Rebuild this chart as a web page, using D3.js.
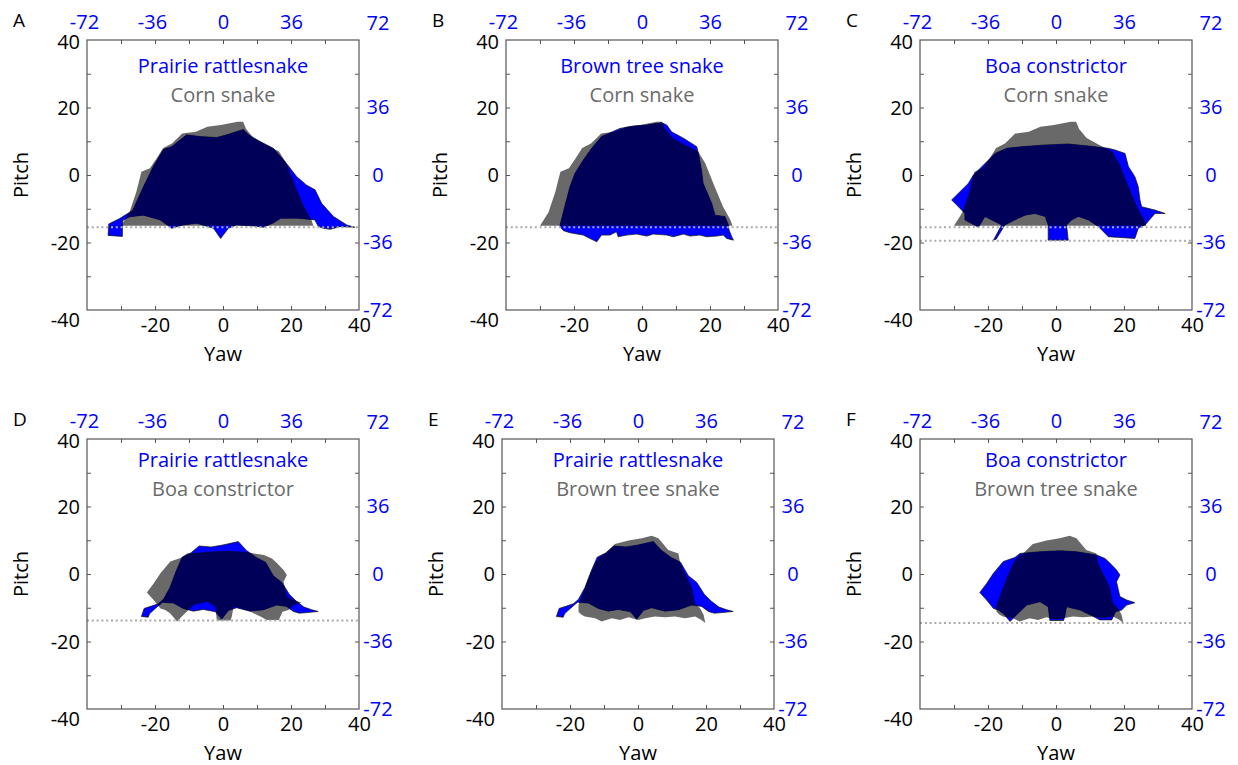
<!DOCTYPE html>
<html>
<head>
<meta charset="utf-8">
<script src="https://cdn.jsdelivr.net/npm/d3@7"></script>
<style>
  body { margin: 0; background: #fff; }
  text { font-family: "Open Sans", sans-serif; }
</style>
</head>
<body>
<script>
// axis ticks
var yawLabels = [-20, 0, 20, 40];
var pitchLabels = [-40, -20, 0, 20, 40];
var minorTicks = [-30, -20, -10, 0, 10, 20, 30];
var topLabels = [-72, -36, 0, 36];
var rightLabels = [-72, -36, 0, 36, 72];

// visual field outlines, [yaw, pitch]
var corn1 = [[-30,-15],[-27.5,-11],[-25.5,-5],[-24,1],[-21.5,2],[-19.5,5],[-17.6,8],[-15,9.3],[-12,12.3],[-8,12.8],[-4.6,14.3],[-0.6,14.8],[4.3,15.8],[5.9,15.8],[6.8,13.6],[9,11],[12.6,9],[16.5,7],[18.6,3.5],[21.5,-3.8],[23.8,-9.3],[26,-13.3],[26.6,-15]];
var prairie1 = [[-33.6,-14.5],[-30.4,-12.9],[-26.6,-10.5],[-25,-7],[-23.4,-3.5],[-20.5,2.5],[-17.5,7.6],[-15.1,8.4],[-10.7,11.9],[-6.8,11.4],[-1.9,11.1],[1.1,11.9],[6,13.5],[7.5,11.9],[10.9,9.9],[14.8,7.9],[18.2,4],[21.7,-0.5],[24.6,-3],[27.1,-4.4],[29,-8.4],[32.5,-12.3],[36.4,-14.8],[38.8,-15.5],[34.4,-15.3],[31.5,-16.1],[29.5,-15.8],[28,-15.2],[27,-13.3],[22,-12.8],[17,-12.8],[14.8,-14.2],[11.9,-15.5],[8.9,-15.1],[4,-14.8],[1.6,-15.8],[-0.7,-18.8],[-2.8,-15.8],[-7.7,-14.3],[-11.7,-14.8],[-15.1,-15.8],[-18.5,-13.3],[-23.4,-11.9],[-27.5,-12.4],[-29.5,-13.5],[-29.6,-18.2],[-33.8,-17.9]];
var brown1 = [[-24.1,-14.8],[-22.6,-8.9],[-21.2,-3.5],[-19.7,0.5],[-17.3,4.4],[-14.8,7.9],[-11.9,11.4],[-6.5,13.8],[-2.5,14.5],[1.4,14.8],[4.3,15.3],[5.8,15.5],[7.3,14.8],[8.7,12.8],[12.2,10.9],[16.1,8.4],[16.6,6.4],[17.5,1.5],[18,-2.5],[20.5,-8.4],[21.5,-11.9],[24.4,-12.3],[25.4,-14.8],[25.6,-16.3],[26.4,-18.3],[26.9,-19.3],[24.9,-18.8],[23.9,-17.8],[22,-18.1],[19,-18.3],[17,-17.8],[14.1,-18.1],[12.2,-17.5],[9.2,-18.3],[7.3,-17.8],[3.3,-17.5],[1.4,-18.1],[-1.6,-17.5],[-4.5,-17.8],[-7,-18.3],[-7.5,-16.8],[-9.4,-17.8],[-11.9,-17.8],[-13.3,-19.8],[-15.3,-18.8],[-17.3,-17.8],[-21.2,-17.1],[-23.1,-16.5],[-24.1,-15.3]];
var boa1 = [[-24.3,0],[-25.8,-2.5],[-28.7,-5.4],[-30.7,-7.4],[-28.7,-9.4],[-26.8,-11.4],[-26.8,-13.3],[-22.8,-15.5],[-20.9,-12.3],[-19.5,-13],[-16,-14.8],[-18.4,-19.3],[-17.6,-19],[-15,-14.8],[-12.1,-13.3],[-9.1,-11.9],[-6.2,-11.4],[-3.2,-12.3],[-2.3,-14.8],[-2.3,-19.3],[3.6,-19.3],[3.1,-14.8],[4.6,-13.3],[6.6,-12.3],[9.5,-13.3],[12.5,-15.3],[15.4,-18.3],[23.2,-18.8],[24.2,-15.8],[26.2,-14.8],[29.1,-11.4],[32.1,-11.4],[29.1,-10.4],[25.2,-9.4],[24.7,-7.4],[24.2,-3.5],[23.2,-0.5],[21.3,2.5],[20.3,6.4],[17.4,7.4],[15.4,7.9],[9.5,8.6],[3.6,9.2],[-3.2,8.9],[-10.1,8.4],[-14.5,7.9],[-17.9,6.4],[-19.9,4.4],[-22.8,1.5]];
var prairie2 = [[-24,-12.6],[-23.2,-10.2],[-21,-9.5],[-19,-8.8],[-17.5,-7.5],[-15.6,-4],[-13.8,0.8],[-12,5],[-9.5,6.2],[-7,8.3],[-3.5,8],[0,8.6],[4.5,9.6],[6.9,7],[9.9,4.8],[12.5,3.5],[14.8,-0.5],[17.3,-2.5],[19.5,-6],[21.5,-8],[23.8,-9.8],[26.1,-10.6],[28,-11.1],[24,-11.5],[22.4,-11.6],[20.7,-11.1],[18.7,-9.6],[15.8,-9.2],[11.9,-10.6],[7.9,-11],[4,-10],[1.6,-10.8],[-0.4,-13.4],[-2.2,-11.2],[-5.8,-10.5],[-8.7,-11],[-11.7,-10.2],[-14.6,-8.6],[-17.8,-8.4],[-20,-10.3],[-21.6,-11.8],[-22,-12.8]];
var boa2 = [[-22.4,-5.5],[-20.4,-2.8],[-18.4,0.2],[-15.5,3.7],[-12.1,4.9],[-10.6,6.1],[-4.7,6.6],[1.2,6.9],[6.1,6.6],[12,5.6],[14.4,4.6],[15.9,3.2],[17.8,1.2],[18.8,-0.3],[17.8,-2.3],[18.8,-6.7],[20.8,-7.7],[23.2,-8.5],[20.8,-9.2],[19.3,-10.7],[17.5,-11.2],[16.4,-13.6],[12.9,-13.6],[11,-12.6],[7.1,-10.7],[3.1,-9.7],[2.6,-12.6],[2.2,-13.8],[-1.8,-13.8],[-2.3,-9.7],[-4.7,-8.2],[-8.6,-9.2],[-11.6,-12.1],[-13.5,-14.1],[-15.5,-11.7],[-17,-10.7],[-18.4,-10.2],[-20.4,-7.7]];
var brown2 = [[-9.7,6.1],[-6.8,8.9],[-2.8,9.9],[1.1,10.6],[4,11.3],[6,10.6],[8.9,7.1],[11.9,6.1],[12.4,3.2],[13.8,0.2],[15.8,-3.8],[16.8,-8.7],[18.3,-10.2],[19.3,-12.1],[19.8,-14.5],[18.7,-13.6],[16.8,-12.6],[13.8,-13.1],[10.9,-12.6],[7.9,-12.8],[5,-12.6],[2.1,-13.1],[0.1,-13.6],[-2.8,-12.8],[-5.3,-13.6],[-7.7,-13.1],[-10.7,-14.1],[-12.6,-13.1],[-15.6,-12.6],[-16.6,-12.1],[-17.5,-11.2],[-17.5,-9.2],[-16.6,-6.7],[-14.6,-1.3],[-12.6,3.2],[-11.2,5.1]];

// panels
var letters = ["A", "B", "C", "D", "E", "F"];
var blueNames = ["Prairie rattlesnake", "Brown tree snake", "Boa constrictor", "Prairie rattlesnake", "Prairie rattlesnake", "Boa constrictor"];
var greyNames = ["Corn snake", "Corn snake", "Corn snake", "Boa constrictor", "Brown tree snake", "Brown tree snake"];
var blueShapes = [prairie1, brown1, boa1, prairie2, prairie2, boa2];
var greyShapes = [corn1, corn1, corn1, boa2, brown2, brown2];
var floorLines = [[-15.5], [-15.5], [-15.5, -19.5], [-13.8], [], [-14.5]];

// layout
var panelLeft = [87, 506, 920, 87, 502, 920];
var panelTop = [40, 40, 40, 439, 439, 439];
var titleGap = [33, 33, 33, 28, 28, 28];
var w = 272, h = 270;

var blue = "#0000ff", navy = "#000058", grey = "#696969";
var plain = function(d){ return String(d); };   // hyphen minus like the original

var svg = d3.select("body").append("svg").attr("width", 1238).attr("height", 765);

letters.forEach(function(letter, i){
  var g = svg.append("g").attr("transform", "translate(" + panelLeft[i] + "," + panelTop[i] + ")");

  var x = d3.scaleLinear().domain([-40, 40]).range([0, w]);
  var y = d3.scaleLinear().domain([-40, 40]).range([h, 0]);
  var xTop = d3.scaleLinear().domain([-72, 72]).range([0, w]);
  var yRight = d3.scaleLinear().domain([-72, 72]).range([h, 0]);

  var line = d3.line().x(function(d){ return x(d[0]); }).y(function(d){ return y(d[1]); });
  var outline = function(pts){ return line(pts) + "Z"; };

  // shapes: grey, blue, overlap in navy
  g.append("clipPath").attr("id", "clip" + letter)
    .append("path").attr("d", outline(blueShapes[i]));

  g.append("path").attr("d", outline(greyShapes[i])).attr("fill", grey);
  g.append("path").attr("d", outline(blueShapes[i])).attr("fill", blue)
    .attr("stroke", "#111").attr("stroke-width", 0.7).attr("stroke-linejoin", "round");
  g.append("path").attr("d", outline(greyShapes[i])).attr("fill", navy)
    .attr("clip-path", "url(#clip" + letter + ")");

  g.selectAll(".floor").data(floorLines[i]).enter().append("line")
    .attr("x1", 0).attr("x2", w)
    .attr("y1", function(d){ return y(d); }).attr("y2", function(d){ return y(d); })
    .attr("stroke", "#aaaaaa").attr("stroke-width", 2)
    .attr("stroke-dasharray", "2,2.8");

  // frame and inward ticks
  g.append("rect").attr("width", w).attr("height", h)
    .attr("fill", "none").attr("stroke", "#555").attr("stroke-width", 1.2);

  var tickAxes = [
    d3.axisBottom(x).tickValues(minorTicks),
    d3.axisTop(x).tickValues(minorTicks),
    d3.axisLeft(y).tickValues(minorTicks),
    d3.axisRight(y).tickValues(minorTicks)
  ];
  var tickPos = ["translate(0," + h + ")", null, null, "translate(" + w + ",0)"];
  tickAxes.forEach(function(ax, k){
    var t = g.append("g").attr("transform", tickPos[k])
      .call(ax.tickSizeInner(-4).tickSizeOuter(0).tickFormat(""));
    t.select(".domain").remove();
    t.selectAll("line").attr("stroke", "#555");
  });

  // labels
  var bottom = g.append("g").attr("transform", "translate(0," + h + ")")
    .call(d3.axisBottom(x).tickValues(yawLabels).tickFormat(plain).tickSize(0).tickPadding(8));
  var left = g.append("g")
    .call(d3.axisLeft(y).tickValues(pitchLabels).tickFormat(plain).tickSize(0).tickPadding(7));
  var top = g.append("g")
    .call(d3.axisTop(xTop).tickValues(topLabels).tickFormat(plain).tickSize(0).tickPadding(11));
  var right = g.append("g").attr("transform", "translate(" + w + ",0)")
    .call(d3.axisRight(yRight).tickValues(rightLabels).tickFormat(plain).tickSize(0).tickPadding(19));

  [bottom, left, top, right].forEach(function(a){
    a.select(".domain").remove();
    a.selectAll("text").attr("font-size", 20).attr("font-family", "Open Sans");
  });
  bottom.selectAll("text").attr("fill", "#000");
  left.selectAll("text").attr("fill", "#000")
    .attr("dy", function(d){ return d === 40 ? "0.42em" : d === -40 ? "0.82em" : "0.34em"; });
  top.selectAll("text").attr("fill", blue)
    .attr("dx", function(d){ return d < 0 ? -3 : 0; });
  right.selectAll("text").attr("fill", blue).attr("text-anchor", "middle");
  right.selectAll("text").filter(function(d){ return d === 72; })
    .attr("dy", null).attr("y", -11);

  g.append("text").attr("x", w / 2).attr("y", h + 51).attr("text-anchor", "middle")
    .attr("font-size", 20).text("Yaw");
  g.append("text").attr("transform", "translate(-59," + (h / 2) + ") rotate(-90)")
    .attr("text-anchor", "middle").attr("font-size", 20).text("Pitch");
  g.append("text").attr("x", -74).attr("y", -13).attr("font-size", 19).text(letter);

  g.append("text").attr("x", w / 2).attr("y", titleGap[i]).attr("text-anchor", "middle")
    .attr("font-size", 20).attr("fill", blue).text(blueNames[i]);
  g.append("text").attr("x", w / 2).attr("y", titleGap[i] + 29).attr("text-anchor", "middle")
    .attr("font-size", 20).attr("fill", "#6b6b6b").text(greyNames[i]);
});
</script>
</body>
</html>
